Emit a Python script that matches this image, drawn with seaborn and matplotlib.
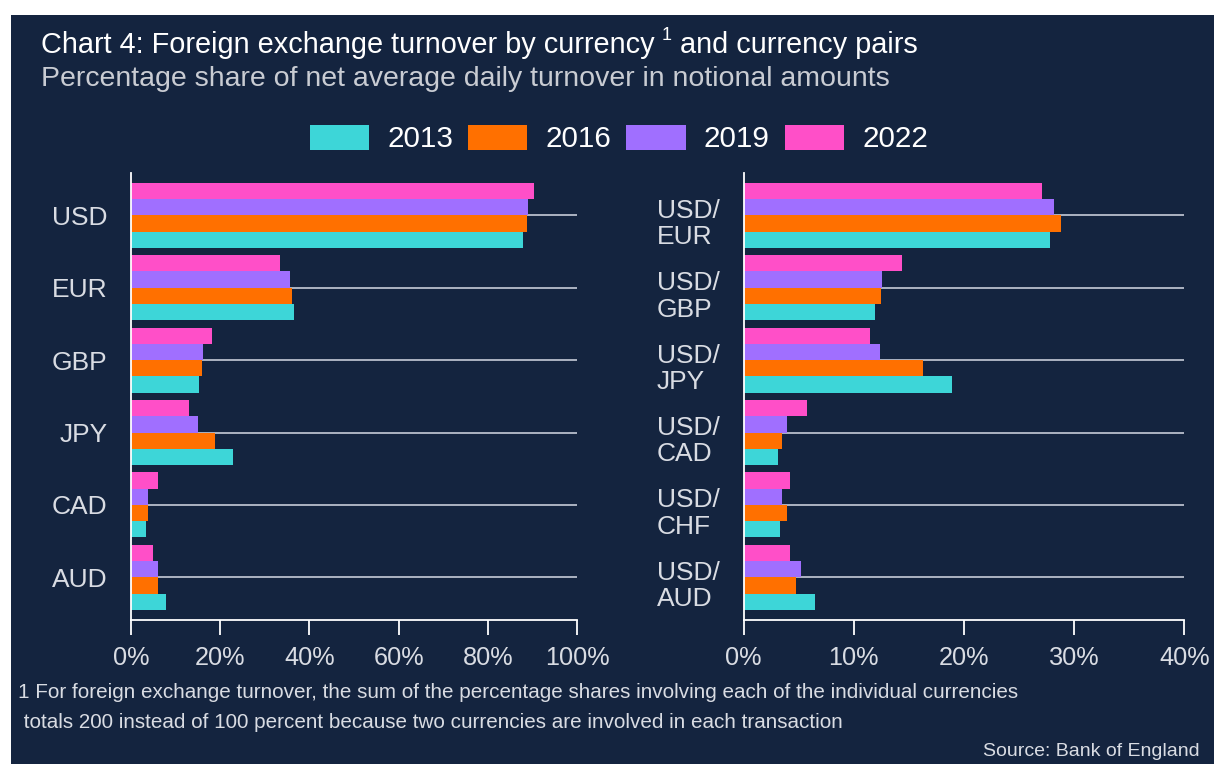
import numpy as np
import pandas as pd
import matplotlib
matplotlib.use("Agg")
import matplotlib.pyplot as plt
import seaborn as sns
from matplotlib.patches import Rectangle, Patch
from matplotlib.transforms import offset_copy

# data (% share)
currencies = ["USD", "EUR", "GBP", "JPY", "CAD", "AUD"]
cur_2013 = [87.8, 36.6, 15.3, 22.8, 3.3, 7.8]
cur_2016 = [88.8, 36.2, 16.0, 18.9, 3.9, 6.1]
cur_2019 = [89.1, 35.6, 16.1, 15.0, 3.9, 6.1]
cur_2022 = [90.3, 33.4, 18.2, 13.1, 6.1, 5.0]

pairs = ["USD/\nEUR", "USD/\nGBP", "USD/\nJPY", "USD/\nCAD", "USD/\nCHF", "USD/\nAUD"]
pair_2013 = [27.8, 11.9, 18.9, 3.1, 3.3, 6.5]
pair_2016 = [28.8, 12.5, 16.3, 3.5, 3.9, 4.8]
pair_2019 = [28.2, 12.6, 12.4, 3.9, 3.5, 5.2]
pair_2022 = [27.1, 14.4, 11.5, 5.8, 4.2, 4.2]

years = ["2013", "2016", "2019", "2022"]
colors = {"2013": "#3dd6d8", "2016": "#ff7000", "2019": "#a06fff", "2022": "#ff4fc8"}

BG = "#14243f"
TXT = "#d9dce3"
GRID = "#c6ccd8"


def long_df(cats, *series):
    rows = []
    for yr, vals in zip(years, series):
        for c, v in zip(cats, vals):
            rows.append({"cat": c, "year": yr, "value": v})
    return pd.DataFrame(rows)


df_cur = long_df(currencies, cur_2013, cur_2016, cur_2019, cur_2022)
df_pair = long_df(pairs, pair_2013, pair_2016, pair_2019, pair_2022)

sns.set_theme(style="white")
plt.rcParams["font.family"] = ["Liberation Sans", "DejaVu Sans"]

fig = plt.figure(figsize=(12.14, 7.64), dpi=100, facecolor="white")
# navy panel with a thin white margin on top and left
fig.patches.append(Rectangle((11 / 1214, 0), 1, (764 - 15) / 764,
                             transform=fig.transFigure, facecolor=BG,
                             edgecolor="none", zorder=-10))

ax1 = fig.add_axes([131 / 1214, (764 - 620) / 764, 446 / 1214, 447 / 764])
ax2 = fig.add_axes([743.6 / 1214, (764 - 620) / 764, 440.6 / 1214, 447 / 764])

hue_order = ["2022", "2019", "2016", "2013"]  # top to bottom inside a group

for ax, df, cats, xmax, step in [(ax1, df_cur, currencies, 100, 20),
                                 (ax2, df_pair, pairs, 40, 10)]:
    ax.set_facecolor("none")
    ax.set_zorder(2)
    for i in range(len(cats)):
        ax.axhline(i, color=GRID, lw=1.2, zorder=0)
    sns.barplot(data=df, y="cat", x="value", hue="year", hue_order=hue_order,
                order=cats, palette=colors, saturation=1, width=0.9,
                orient="h", linewidth=0, ax=ax, legend=False, zorder=2)
    ax.set_xlim(0, xmax)
    ax.set_ylim(len(cats) - 0.41, -0.585)
    ax.set_xticks(np.arange(0, xmax + 1, step))
    ax.set_xticklabels([f"{t}%" for t in range(0, xmax + 1, step)])
    ax.set_xlabel("")
    ax.set_ylabel("")
    for s in ["top", "right"]:
        ax.spines[s].set_visible(False)
    for s in ["left", "bottom"]:
        ax.spines[s].set_color("white")
        ax.spines[s].set_linewidth(1.3)
    ax.tick_params(axis="x", colors=TXT, labelsize=18.2, length=11, width=1.3,
                   direction="out", pad=8, bottom=True)
    ax.tick_params(axis="x", color="white")
    ax.tick_params(axis="y", colors=TXT, labelsize=19, length=0, pad=17)
    ax.grid(False)

# two-line pair labels, left aligned and sitting a little below the gridline
for lab in ax2.get_yticklabels():
    lab.set_multialignment("left")
    lab.set_linespacing(1.12)
    lab.set_transform(offset_copy(lab.get_transform(), fig=fig, y=-5, units="dots"))

# titles
fig.text(41 / 1214, 1 - 45 / 764, "Chart 4: Foreign exchange turnover by currency",
         color="white", fontsize=20.8, va="center", ha="left")
fig.text(662 / 1214, 1 - 36 / 764, "1", color="white", fontsize=13,
         va="center", ha="left")
fig.text(680 / 1214, 1 - 45 / 764, "and currency pairs",
         color="white", fontsize=20.8, va="center", ha="left")
fig.text(41 / 1214, 1 - 79 / 764,
         "Percentage share of net average daily turnover in notional amounts",
         color="#c9ccd3", fontsize=20.5, va="center", ha="left")

# legend
handles = [Patch(facecolor=colors[y], edgecolor="none") for y in years]
fig.legend(handles, years, loc="center", bbox_to_anchor=(619 / 1214, 1 - 139 / 764),
           ncol=4, frameon=False, fontsize=21.3, labelcolor="white",
           handlelength=2.0, handleheight=0.93, handletextpad=0.62,
           columnspacing=0.5)

# footnote and source
fig.text(18 / 1214, 1 - 692 / 764,
         "1 For foreign exchange turnover, the sum of the percentage shares involving each of the individual currencies",
         color=TXT, fontsize=14.9, va="center", ha="left")
fig.text(18 / 1214, 1 - 722 / 764,
         " totals 200 instead of 100 percent because two currencies are involved in each transaction",
         color=TXT, fontsize=14.9, va="center", ha="left")
fig.text(1200 / 1214, 1 - 752 / 764, "Source: Bank of England",
         color=TXT, fontsize=14, va="center", ha="right")

fig.savefig("out.png", dpi=100, facecolor="white")
